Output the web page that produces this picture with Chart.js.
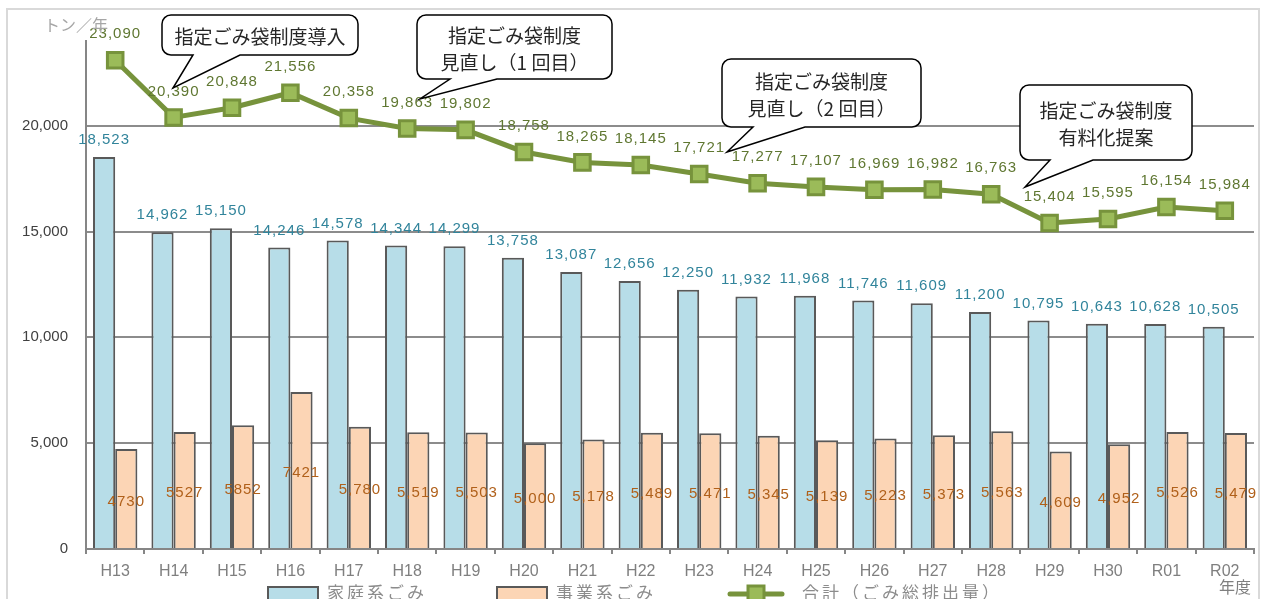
<!DOCTYPE html>
<html lang="ja">
<head>
<meta charset="utf-8">
<title>ごみ排出量の推移</title>
<script src="https://cdn.jsdelivr.net/npm/chart.js@4.4.1/dist/chart.umd.min.js"></script>
<style>
    html, body { margin: 0; padding: 0; background: #fff; overflow: hidden; }
    #wrap { position: absolute; left: 0; top: 0; width: 1268px; height: 599px; }
    #frame { position: absolute; left: 6px; top: 8px; width: 1254px; height: 620px; border: 2px solid #d9d9d9; box-sizing: border-box; pointer-events: none; }
</style>
</head>
<body>
<div id="wrap">
    <canvas id="gomiChart" width="1268" height="599"></canvas>
    <div id="frame"></div>
</div>
<script>
// 年度
const years = ['H13', 'H14', 'H15', 'H16', 'H17', 'H18', 'H19', 'H20', 'H21', 'H22',
    'H23', 'H24', 'H25', 'H26', 'H27', 'H28', 'H29', 'H30', 'R01', 'R02'];
// 家庭系ごみ (トン/年)
const household = [18523, 14962, 15150, 14246, 14578, 14344, 14299, 13758, 13087, 12656,
    12250, 11932, 11968, 11746, 11609, 11200, 10795, 10643, 10628, 10505];
// 事業系ごみ (トン/年)
const business = [4730, 5527, 5852, 7421, 5780, 5519, 5503, 5000, 5178, 5489,
    5471, 5345, 5139, 5223, 5373, 5563, 4609, 4952, 5526, 5479];
// 合計（ごみ総排出量）
const total = [23090, 20390, 20848, 21556, 20358, 19863, 19802, 18758, 18265, 18145,
    17721, 17277, 17107, 16969, 16982, 16763, 15404, 15595, 16154, 15984];
// y軸の目盛り
const yTicks = [0, 5000, 10000, 15000, 20000];

const legendNames = ['家庭系ごみ', '事業系ごみ', '合計（ごみ総排出量）'];

// 吹き出し
const callouts = [
    { lines: ['指定ごみ袋制度導入'], box: [162, 15, 196, 40], base: [193, 240], tip: [173, 88] },
    { lines: ['指定ごみ袋制度', '見直し（1 回目）'], box: [417, 15, 195, 64], base: [450, 497], tip: [420, 99] },
    { lines: ['指定ごみ袋制度', '見直し（2 回目）'], box: [722, 59, 199, 68], base: [753, 805], tip: [727, 152] },
    { lines: ['指定ごみ袋制度', '有料化提案'], box: [1020, 85, 172, 75], base: [1050, 1093], tip: [1025, 187] }
];

const numFont = '15px "Liberation Sans", Arial, sans-serif';
const jpFont = '"Noto Sans CJK JP", sans-serif';

function fmt(v) {
    return v.toLocaleString('en-US');
}

// 数値ラベル
const labelPlugin = {
    id: 'valueLabels',
    afterDatasetsDraw(chart) {
        const ctx = chart.ctx;
        ctx.save();
        ctx.font = numFont;
        ctx.letterSpacing = '1px';
        ctx.textAlign = 'center';
        ctx.textBaseline = 'middle';

        const homeMeta = chart.getDatasetMeta(0);
        ctx.fillStyle = '#31849b';
        homeMeta.data.forEach((bar, i) => {
            ctx.fillText(fmt(household[i]), bar.x, bar.y - 17);
        });

        const bizMeta = chart.getDatasetMeta(1);
        ctx.fillStyle = '#b0601a';
        bizMeta.data.forEach((bar, i) => {
            const txt = i < 4 ? String(business[i]) : fmt(business[i]);
            ctx.fillText(txt, bar.x, (bar.y + bar.base) / 2 + 3);
        });

        const totMeta = chart.getDatasetMeta(2);
        ctx.fillStyle = '#5f7731';
        totMeta.data.forEach((pt, i) => {
            ctx.fillText(fmt(total[i]), pt.x, pt.y - 26);
        });
        ctx.restore();
    }
};

// 吹き出し・凡例・単位
const decoPlugin = {
    id: 'deco',
    afterDraw(chart) {
        const ctx = chart.ctx;
        ctx.save();

        callouts.forEach(c => {
            const [x, y, w, h] = c.box;
            const r = 9;
            ctx.beginPath();
            ctx.moveTo(x + r, y);
            ctx.lineTo(x + w - r, y);
            ctx.arcTo(x + w, y, x + w, y + r, r);
            ctx.lineTo(x + w, y + h - r);
            ctx.arcTo(x + w, y + h, x + w - r, y + h, r);
            ctx.lineTo(c.base[1], y + h);
            ctx.lineTo(c.tip[0], c.tip[1]);
            ctx.lineTo(c.base[0], y + h);
            ctx.lineTo(x + r, y + h);
            ctx.arcTo(x, y + h, x, y + h - r, r);
            ctx.lineTo(x, y + r);
            ctx.arcTo(x, y, x + r, y, r);
            ctx.closePath();
            ctx.fillStyle = '#fff';
            ctx.fill();
            ctx.lineWidth = 1.5;
            ctx.strokeStyle = '#000';
            ctx.stroke();

            ctx.fillStyle = '#262626';
            ctx.font = '19px ' + jpFont;
            ctx.textAlign = 'center';
            ctx.textBaseline = 'middle';
            const n = c.lines.length;
            const lh = 27;
            const cy = y + h / 2 + 2;
            c.lines.forEach((t, i) => {
                ctx.fillText(t, x + w / 2, cy + (i - (n - 1) / 2) * lh);
            });
        });

        // 単位
        ctx.fillStyle = '#a6a6a6';
        ctx.font = '16px ' + jpFont;
        ctx.textAlign = 'left';
        ctx.textBaseline = 'middle';
        ctx.fillText('トン／年', 44, 25);
        ctx.fillStyle = '#7f7f7f';
        ctx.fillText('年度', 1219, 587);

        // 凡例
        ctx.letterSpacing = '3px';
        ctx.font = '17px ' + jpFont;
        ctx.lineWidth = 2;
        ctx.strokeStyle = '#595959';
        ctx.fillStyle = '#b7dde8';
        ctx.fillRect(268, 587, 50, 14);
        ctx.strokeRect(268, 587, 50, 14);
        ctx.fillStyle = '#fcd5b5';
        ctx.fillRect(497, 587, 50, 14);
        ctx.strokeRect(497, 587, 50, 14);

        ctx.beginPath();
        ctx.lineWidth = 5;
        ctx.strokeStyle = '#77933c';
        ctx.lineCap = 'round';
        ctx.moveTo(730, 594);
        ctx.lineTo(782, 594);
        ctx.stroke();
        ctx.lineWidth = 3;
        ctx.fillStyle = '#9bbb59';
        ctx.fillRect(748, 586, 16, 16);
        ctx.strokeRect(748, 586, 16, 16);

        ctx.fillStyle = '#8c8c8c';
        ctx.fillText(legendNames[0], 327, 593);
        ctx.fillText(legendNames[1], 556, 593);
        ctx.fillText(legendNames[2], 802, 593);
        ctx.restore();
    }
};

const config = {
    data: {
        labels: years,
        datasets: [
            {
                type: 'bar',
                label: legendNames[0],
                data: household,
                backgroundColor: '#b7dde8',
                borderColor: '#595959',
                borderWidth: 2,
                categoryPercentage: 0.76,
                barPercentage: 1.0,
                order: 2
            },
            {
                type: 'bar',
                label: legendNames[1],
                data: business,
                backgroundColor: '#fcd5b5',
                borderColor: '#595959',
                borderWidth: 2,
                categoryPercentage: 0.76,
                barPercentage: 1.0,
                order: 2
            },
            {
                type: 'line',
                label: legendNames[2],
                data: total,
                borderColor: '#77933c',
                borderWidth: 5,
                pointStyle: 'rect',
                pointRadius: 11,
                pointBackgroundColor: '#9bbb59',
                pointBorderColor: '#77933c',
                pointBorderWidth: 3,
                tension: 0,
                order: 1
            }
        ]
    },
    options: {
        responsive: false,
        animation: false,
        layout: { padding: { top: 41, right: 6, left: 0, bottom: 0 } },
        plugins: {
            legend: { display: false },
            tooltip: { enabled: false }
        },
        scales: {
            x: {
                offset: true,
                grid: {
                    offset: true,
                    drawOnChartArea: false,
                    tickLength: 5,
                    color: '#868686',
                    lineWidth: 2
                },
                border: { color: '#868686', width: 2 },
                ticks: {
                    color: '#7f7f7f',
                    font: { size: 16, family: '"Liberation Sans", Arial, sans-serif' },
                    padding: 8,
                    maxRotation: 0
                },
                afterFit(scale) { scale.height = 50; }
            },
            y: {
                min: 0,
                max: 24000,
                afterBuildTicks(scale) {
                    scale.ticks = yTicks.map(v => ({ value: v }));
                },
                grid: { color: '#8c8c8c', lineWidth: 2, drawTicks: false },
                border: { color: '#868686', width: 2 },
                ticks: {
                    color: '#404040',
                    font: { size: 15, family: '"Liberation Sans", Arial, sans-serif' },
                    padding: 18,
                    callback: v => fmt(v)
                },
                afterFit(scale) { scale.width = 86; }
            }
        }
    },
    plugins: [labelPlugin, decoPlugin]
};

const ctx = document.getElementById('gomiChart').getContext('2d');
const gomiChart = new Chart(ctx, config);
</script>
</body>
</html>
